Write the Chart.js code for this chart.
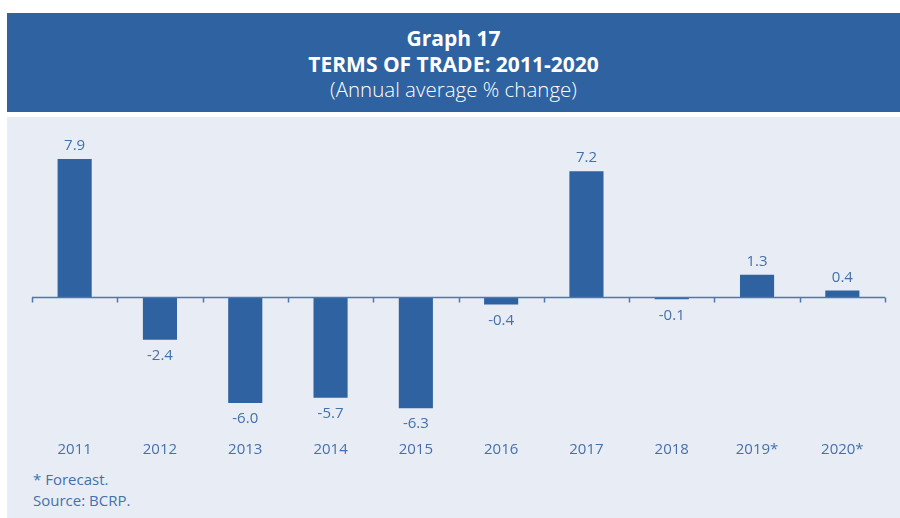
<!DOCTYPE html>
<html><head><meta charset="utf-8">
<script src="https://cdn.jsdelivr.net/npm/chart.js@4/dist/chart.umd.min.js"></script>
<style>
html,body{margin:0;padding:0;background:#fff;width:900px;height:518px;overflow:hidden;font-family:"Open Sans",sans-serif;}
#hdr{position:absolute;left:7px;top:13px;width:893px;height:99px;background:#2e62a0;color:#fff;text-align:center;}
#hdr .t1{position:absolute;left:0;right:0;top:12px;font-size:21px;font-weight:bold;line-height:26px;}
#hdr .t2{position:absolute;left:0;right:0;top:38px;font-size:21px;font-weight:bold;line-height:26px;}
#hdr .t3{position:absolute;left:0;right:0;top:63px;font-size:20.5px;font-weight:300;line-height:26px;}
#panel{position:absolute;left:7px;top:117px;width:893px;height:401px;background:#e8edf5;}
#cv{position:absolute;left:0;top:0;}
.note{position:absolute;left:26px;font-size:15px;color:#4570ab;line-height:20px;}
</style></head>
<body>
<div id="hdr"><div class="t1">Graph 17</div><div class="t2">TERMS OF TRADE: 2011-2020</div><div class="t3">(Annual average % change)</div></div>
<div id="panel">
<div style="position:absolute;left:0;top:0;width:893px;height:345px;"><canvas id="cv"></canvas></div>
<div class="note" style="top:352px;">* Forecast.</div>
<div class="note" style="top:373px;">Source: BCRP.</div>
</div>
<script>
const categories = ["2011","2012","2013","2014","2015","2016","2017","2018","2019*","2020*"];
const values = [7.9, -2.4, -6.0, -5.7, -6.3, -0.4, 7.2, -0.1, 1.3, 0.4];
const yMin = -8, yMax = 9;

const axisPlugin = {
  id: 'axisPlugin',
  afterDatasetsDraw(chart) {
    const ctx = chart.ctx, xs = chart.scales.x, ys = chart.scales.y;
    const y0 = ys.getPixelForValue(0);
    ctx.save();
    ctx.strokeStyle = '#4a78b2';
    ctx.lineWidth = 1.5;
    ctx.beginPath();
    const left = xs.getPixelForValue(-0.5), right = xs.getPixelForValue(categories.length - 0.5);
    ctx.moveTo(left, y0); ctx.lineTo(right, y0);
    for (let i = 0; i <= categories.length; i++) {
      const px = Math.round(xs.getPixelForValue(i - 0.5)) + 0.5;
      ctx.moveTo(px, y0); ctx.lineTo(px, y0 + 5);
    }
    ctx.stroke();
    ctx.fillStyle = '#4570ab';
    ctx.font = '15px "Open Sans", sans-serif';
    ctx.textAlign = 'center';
    ctx.textBaseline = 'middle';
    const meta = chart.getDatasetMeta(0);
    meta.data.forEach((bar, i) => {
      const v = values[i];
      const y = v >= 0 ? bar.y - 13 : bar.y + 16;
      ctx.fillText(v.toFixed(1), bar.x, y);
    });
    ctx.restore();
  }
};

new Chart(document.getElementById('cv'), {
  type: 'bar',
  data: { labels: categories, datasets: [{ data: values, backgroundColor: '#2e62a0', barPercentage: 0.4, categoryPercentage: 1.0 }] },
  options: {
    responsive: true, maintainAspectRatio: false, animation: false,
    layout: { padding: { left: 25, right: 15, top: 22.6, bottom: 0 } },
    plugins: { legend: { display: false }, tooltip: { enabled: false }, title: { display: false } },
    scales: {
      x: { grid: { display: false, drawTicks: false }, border: { display: false },
           ticks: { color: '#4570ab', font: { size: 15, family: '"Open Sans", sans-serif' }, padding: 3, maxRotation: 0 } },
      y: { display: false, min: yMin, max: yMax }
    }
  },
  plugins: [axisPlugin]
});
</script>
</body></html>
